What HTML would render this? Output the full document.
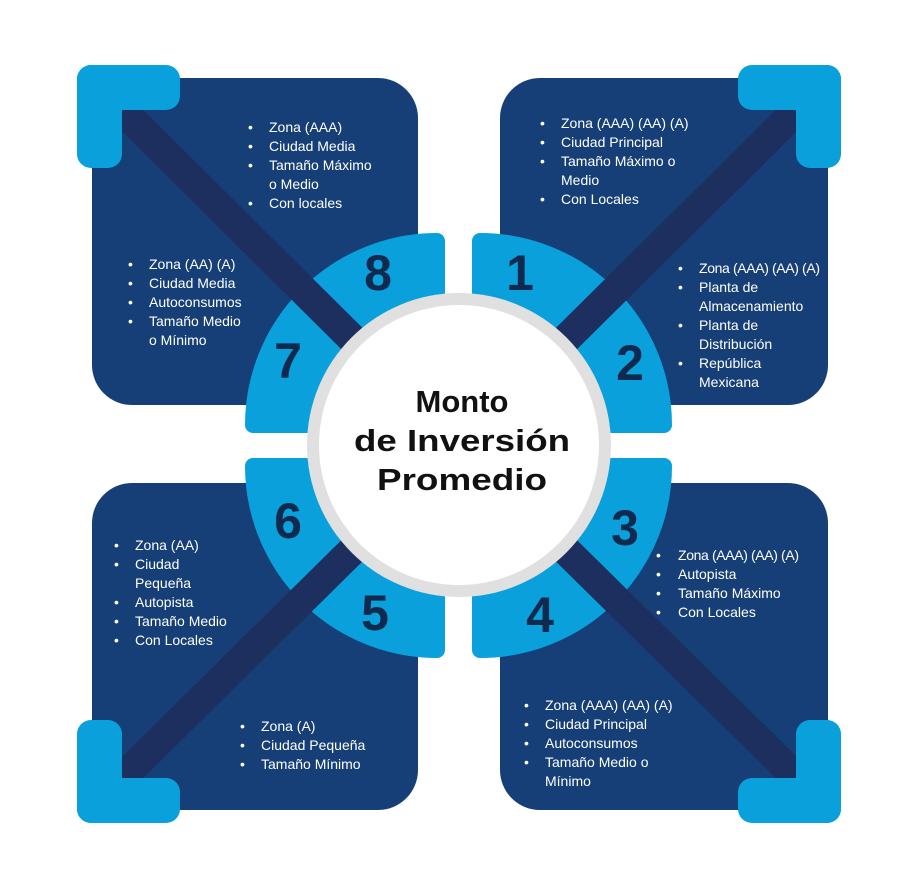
<!DOCTYPE html>
<html><head><meta charset="utf-8"><style>
html,body{margin:0;padding:0;background:#fff;}
svg{display:block;}
.t{font-family:"Liberation Sans",sans-serif;font-size:14px;fill:#fff;}
.n{font-family:"Liberation Sans",sans-serif;font-size:50px;font-weight:bold;fill:#10294f;text-anchor:middle;}
.c{font-family:"Liberation Sans",sans-serif;font-size:31px;font-weight:bold;fill:#111;text-anchor:middle;}
</style></head><body>
<svg width="900" height="885" viewBox="0 0 900 885" xmlns="http://www.w3.org/2000/svg">
<rect width="900" height="885" fill="#fff"/>
<g fill="#163f77">
<rect x="92" y="78" width="326" height="327" rx="40"/>
<rect x="500" y="78" width="328" height="327" rx="40"/>
<rect x="92" y="483" width="326" height="327" rx="40"/>
<rect x="500" y="483" width="328" height="327" rx="40"/>
</g>
<!-- quarter rings -->
<g fill="#0aa0dc" stroke="#0aa0dc" stroke-width="16" stroke-linejoin="round">
<path d="M437,425 L253,425 A184,184 0 0 1 437,241 Z"/>
<path d="M480,425 L480,241 A184,184 0 0 1 664,425 Z"/>
<path d="M437,466 L437,650 A184,184 0 0 1 253,466 Z"/>
<path d="M480,466 L664,466 A184,184 0 0 1 480,650 Z"/>
</g>
<!-- diagonals -->
<g stroke="#1d2f5e" stroke-width="30">
<line x1="122" y1="110" x2="459" y2="445"/>
<line x1="797" y1="110" x2="459" y2="445"/>
<line x1="122" y1="778" x2="459" y2="445"/>
<line x1="797" y1="778" x2="459" y2="445"/>
</g>
<!-- L corners -->
<g fill="#0aa0dc">
<rect x="77" y="65" width="45" height="103" rx="14"/><rect x="77" y="65" width="103" height="45" rx="14"/>
<rect x="796" y="65" width="45" height="103" rx="14"/><rect x="738" y="65" width="103" height="45" rx="14"/>
<rect x="77" y="720" width="45" height="103" rx="14"/><rect x="77" y="778" width="103" height="45" rx="14"/>
<rect x="796" y="720" width="45" height="103" rx="14"/><rect x="738" y="778" width="103" height="45" rx="14"/>
</g>
<!-- numbers -->
<text class="n" x="378" y="290">8</text>
<text class="n" x="520" y="290">1</text>
<text class="n" x="288" y="378">7</text>
<text class="n" x="630" y="380">2</text>
<text class="n" x="288" y="538">6</text>
<text class="n" x="625" y="545">3</text>
<text class="n" x="375" y="630">5</text>
<text class="n" x="540" y="632">4</text>
<!-- center circle -->
<circle cx="459" cy="445" r="152" fill="#e0e0e0"/>
<circle cx="459" cy="445" r="140" fill="#fff"/>
<text class="c" x="462" y="412">Monto</text>
<text class="c" x="462" y="451" textLength="216" lengthAdjust="spacingAndGlyphs">de Inversión</text>
<text class="c" x="462" y="490" textLength="170" lengthAdjust="spacingAndGlyphs">Promedio</text>
<!-- texts -->
<g class="t">
<text x="248" y="132">•</text><text x="269" y="132">Zona (AAA)</text>
<text x="248" y="151">•</text><text x="269" y="151">Ciudad Media</text>
<text x="248" y="170">•</text><text x="269" y="170">Tamaño Máximo</text>
<text x="269" y="189">o Medio</text>
<text x="248" y="208">•</text><text x="269" y="208">Con locales</text>

<text x="128" y="269">•</text><text x="149" y="269">Zona (AA) (A)</text>
<text x="128" y="288">•</text><text x="149" y="288">Ciudad Media</text>
<text x="128" y="307">•</text><text x="149" y="307">Autoconsumos</text>
<text x="128" y="326">•</text><text x="149" y="326">Tamaño Medio</text>
<text x="149" y="345">o Mínimo</text>

<text x="540" y="128">•</text><text x="561" y="128">Zona (AAA) (AA) (A)</text>
<text x="540" y="147">•</text><text x="561" y="147">Ciudad Principal</text>
<text x="540" y="166">•</text><text x="561" y="166">Tamaño Máximo o</text>
<text x="561" y="185">Medio</text>
<text x="540" y="204">•</text><text x="561" y="204">Con Locales</text>

<text x="678" y="273">•</text><text x="699" y="273" textLength="121">Zona (AAA) (AA) (A)</text>
<text x="678" y="292">•</text><text x="699" y="292">Planta de</text>
<text x="699" y="311">Almacenamiento</text>
<text x="678" y="330">•</text><text x="699" y="330">Planta de</text>
<text x="699" y="349">Distribución</text>
<text x="678" y="368">•</text><text x="699" y="368">República</text>
<text x="699" y="387">Mexicana</text>

<text x="656" y="560">•</text><text x="678" y="560" textLength="121">Zona (AAA) (AA) (A)</text>
<text x="656" y="579">•</text><text x="678" y="579">Autopista</text>
<text x="656" y="598">•</text><text x="678" y="598">Tamaño Máximo</text>
<text x="656" y="617">•</text><text x="678" y="617">Con Locales</text>

<text x="114" y="550">•</text><text x="135" y="550">Zona (AA)</text>
<text x="114" y="569">•</text><text x="135" y="569">Ciudad</text>
<text x="135" y="588">Pequeña</text>
<text x="114" y="607">•</text><text x="135" y="607">Autopista</text>
<text x="114" y="626">•</text><text x="135" y="626">Tamaño Medio</text>
<text x="114" y="645">•</text><text x="135" y="645">Con Locales</text>

<text x="240" y="731">•</text><text x="261" y="731">Zona (A)</text>
<text x="240" y="750">•</text><text x="261" y="750">Ciudad Pequeña</text>
<text x="240" y="769">•</text><text x="261" y="769">Tamaño Mínimo</text>

<text x="524" y="710">•</text><text x="545" y="710">Zona (AAA) (AA) (A)</text>
<text x="524" y="729">•</text><text x="545" y="729">Ciudad Principal</text>
<text x="524" y="748">•</text><text x="545" y="748">Autoconsumos</text>
<text x="524" y="767">•</text><text x="545" y="767">Tamaño Medio o</text>
<text x="545" y="786">Mínimo</text>
</g>
</svg>
</body></html>
